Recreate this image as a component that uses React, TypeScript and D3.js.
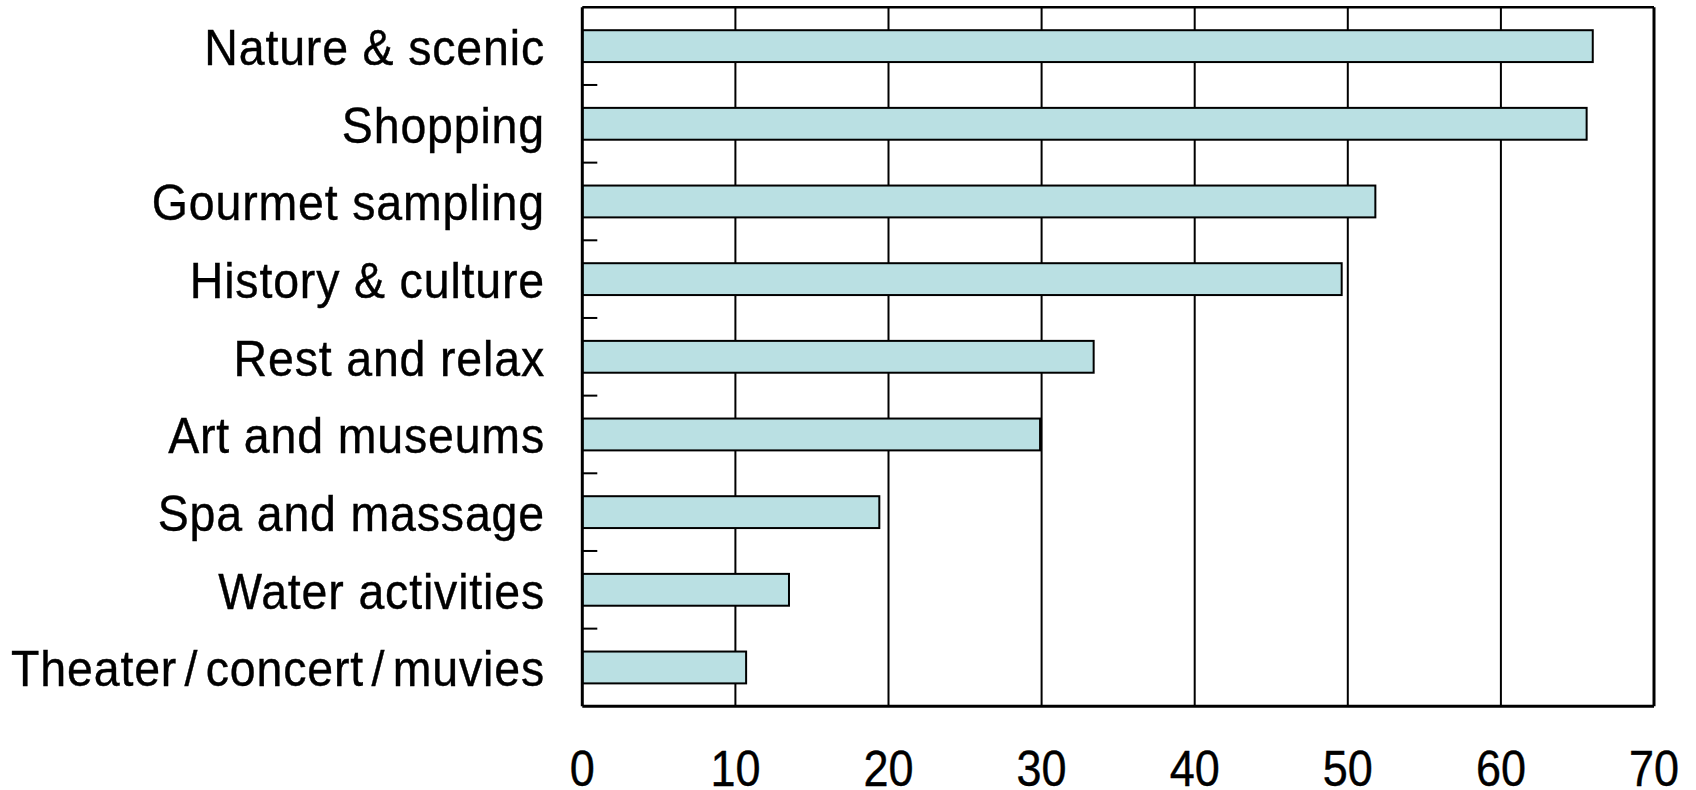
import React from "react";
import * as d3 from "d3";

const categories = [
  "Nature & scenic",
  "Shopping",
  "Gourmet sampling",
  "History & culture",
  "Rest and relax",
  "Art and museums",
  "Spa and massage",
  "Water activities",
  "Theater/concert/muvies",
];
const values = [66.0, 65.6, 51.8, 49.6, 33.4, 29.9, 19.4, 13.5, 10.7];
const xTicks = [0, 10, 20, 30, 40, 50, 60, 70];

const W = 1696;
const H = 790;
const left = 582.3;
const right = 1654;
const top = 7.3;
const bottom = 706.3;

function Label({ text }: { text: string }) {
  const parts = text.split("/");
  return (
    <>
      {parts.map((p, i) => (
        <React.Fragment key={i}>
          {i > 0 && <tspan dx={8}>/</tspan>}
          <tspan dx={i > 0 ? 8 : 0}>{p}</tspan>
        </React.Fragment>
      ))}
    </>
  );
}

export default function App() {
  const x = d3.scaleLinear().domain([0, 70]).range([left, right]);
  const y = d3
    .scaleBand<string>()
    .domain(categories)
    .range([top, bottom])
    .paddingInner(0.59)
    .paddingOuter(0.295);
  const step = y.step();
  const boundaries = d3.range(1, categories.length).map((k) => top + k * step);
  const font = "'Liberation Sans', Arial, sans-serif";

  return (
    <svg
      width={W}
      height={H}
      style={{ position: "absolute", left: 0, top: 0, background: "#fff" }}
    >
      {/* gridlines */}
      {xTicks.slice(1, -1).map((t) => (
        <line key={t} x1={x(t)} x2={x(t)} y1={top} y2={bottom} stroke="#000" strokeWidth={2} />
      ))}
      {/* bars */}
      {categories.map((c, i) => (
        <rect
          key={c}
          x={x(0)}
          y={y(c)}
          width={x(values[i]) - x(0)}
          height={y.bandwidth()}
          fill="#bae0e3"
          stroke="#000"
          strokeWidth={2}
        />
      ))}
      {/* frame */}
      <line x1={left} x2={right} y1={top} y2={top} stroke="#000" strokeWidth={2.5} />
      <line x1={right} x2={right} y1={top} y2={bottom} stroke="#000" strokeWidth={3} />
      <line x1={left} x2={right} y1={bottom} y2={bottom} stroke="#000" strokeWidth={3} />
      <line x1={left} x2={left} y1={top} y2={bottom} stroke="#000" strokeWidth={3} />
      {/* left ticks */}
      {boundaries.map((b, i) => (
        <line key={i} x1={left} x2={left + 15} y1={b} y2={b} stroke="#000" strokeWidth={2} />
      ))}
      {/* category labels */}
      {categories.map((c) => (
        <text
          key={c}
          transform={`translate(545,${(y(c) as number) + y.bandwidth() / 2 + 19}) scale(0.93,1)`}
          textAnchor="end"
          fontFamily={font}
          fontSize={50}
          letterSpacing={0.9}
          fill="#000"
          stroke="#000"
          strokeWidth={0.4}
        >
          <Label text={c} />
        </text>
      ))}
      {/* x tick labels */}
      {xTicks.map((t) => (
        <text
          key={t}
          transform={`translate(${x(t)},786) scale(0.9,1)`}
          textAnchor="middle"
          fontFamily={font}
          fontSize={50}
          fill="#000"
          stroke="#000"
          strokeWidth={0.4}
        >
          {t}
        </text>
      ))}
    </svg>
  );
}
